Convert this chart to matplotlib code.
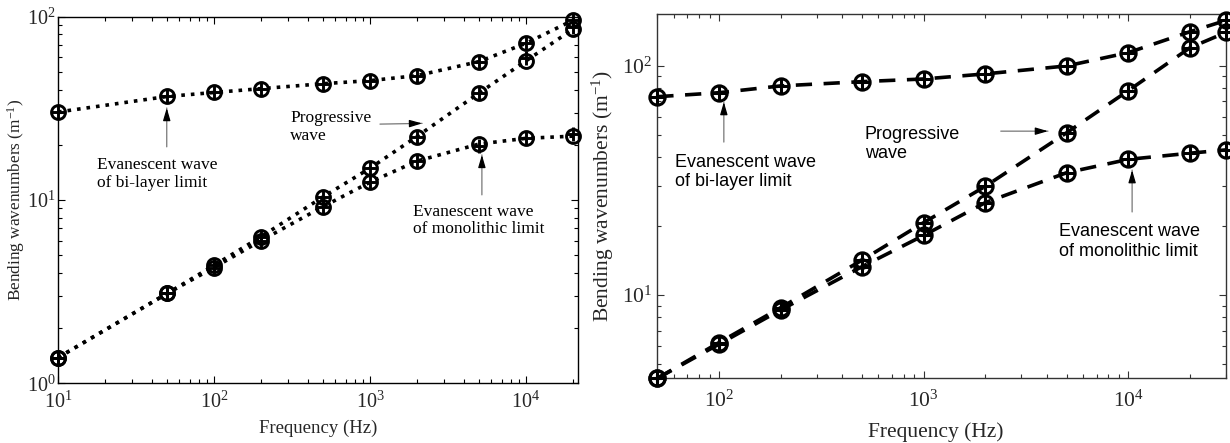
import numpy as np
import matplotlib
matplotlib.use('Agg')
import matplotlib.pyplot as plt
from matplotlib.ticker import LogLocator, NullFormatter

plt.rcParams['font.family'] = ['Liberation Serif', 'DejaVu Serif']
plt.rcParams['mathtext.fontset'] = 'custom'
plt.rcParams['mathtext.rm'] = 'Liberation Serif'
plt.rcParams['mathtext.it'] = 'Liberation Serif:italic'

# left panel data (Hz, 1/m)
freq_a = [10, 50, 100, 200, 500, 1000, 2000, 5000, 10000, 20000]
bilayer_a = [30.2, 36.7, 38.6, 40.5, 43.1, 44.8, 47.7, 56.9, 71.6, 95.6]
progressive_a = [1.38, 3.09, 4.4, 6.3, 10.4, 14.9, 22.2, 38.3, 57.4, 85.4]
monolithic_a = [1.38, 3.09, 4.28, 6.0, 9.2, 12.5, 16.3, 20.2, 21.7, 22.3]
progressive_a_plus = [1.38, 3.09, 4.4, 6.3, 10.4, 14.9, 22.2, 38.3, 59.5, 88.0]
monolithic_a_plus = [1.38, 3.09, 4.28, 6.0, 9.2, 12.5, 16.3, 19.7, 21.7, 22.8]

# right panel data
freq_b = [50, 100, 200, 500, 1000, 2000, 5000, 10000, 20000, 30000]
bilayer_b = [73.4, 76.4, 81.8, 85.4, 87.7, 92.3, 100, 114.3, 141, 158]
progressive_b = [4.33, 6.2, 8.8, 14.2, 20.7, 29.8, 51.1, 78, 120, 140]
monolithic_b = [4.33, 6.1, 8.6, 13.3, 18.2, 25.3, 34.2, 39.1, 41.6, 43.0]

fig = plt.figure(figsize=(12.3, 4.43), dpi=100)
ax1 = fig.add_axes([0.0472, 0.1348, 0.4228, 0.8275])
ax2 = fig.add_axes([0.5344, 0.1460, 0.4623, 0.8217])

sans = 'Liberation Sans'


def style_axes(ax, fs, spine_col, xpad, ypad):
    ax.set_xscale('log')
    ax.set_yscale('log')
    ax.tick_params(which='both', direction='in', top=True, right=True,
                   colors=spine_col, labelcolor='#262626')
    ax.tick_params(which='major', length=5, width=0.8, labelsize=fs)
    ax.tick_params(which='minor', length=3, width=0.8)
    ax.tick_params(axis='x', which='major', pad=xpad)
    ax.tick_params(axis='y', which='major', pad=ypad)
    ax.xaxis.set_minor_locator(LogLocator(base=10, subs=np.arange(2, 10)))
    ax.yaxis.set_minor_locator(LogLocator(base=10, subs=np.arange(2, 10)))
    ax.xaxis.set_minor_formatter(NullFormatter())
    ax.yaxis.set_minor_formatter(NullFormatter())
    for s in ax.spines.values():
        s.set_color(spine_col)
        s.set_linewidth(1.0)


def arrow(ax, tail, head):
    # grey shaft, black head
    ax.annotate('', xy=head, xytext=tail, xycoords='axes fraction',
                textcoords='axes fraction',
                arrowprops=dict(arrowstyle='-', color='#777777', lw=0.9,
                                shrinkA=0, shrinkB=0))
    d = (head[0] - tail[0], head[1] - tail[1])
    n = np.hypot(d[0], d[1])
    short = (head[0] - 0.02 * d[0] / n, head[1] - 0.02 * d[1] / n)
    ax.annotate('', xy=head, xytext=short, xycoords='axes fraction',
                textcoords='axes fraction',
                arrowprops=dict(arrowstyle='-|>,head_length=0.75,head_width=0.22',
                                color='k', lw=0.9, shrinkA=0, shrinkB=0))


# ---- left
for ys in (bilayer_a, progressive_a, monolithic_a):
    ax1.plot(freq_a, ys, ':', color='k', lw=2.6, marker='o', ms=10,
             mfc='none', mec='k', mew=2.1, clip_on=False, zorder=3)
for ys in (bilayer_a, progressive_a_plus, monolithic_a_plus):
    ax1.plot(freq_a, ys, 'none', marker='+', ms=10, mec='k', mew=2.1,
             clip_on=False, zorder=4)
ax1.set_xlim(10, 2.16e4)
ax1.set_ylim(1, 100)
style_axes(ax1, 14.5, 'k', 6, 1.5)
ax1.set_xlabel('Frequency (Hz)', fontsize=13.5, color='#262626')
ax1.set_ylabel('Bending wavenumbers (m$^{-1}$)', fontsize=12.4, color='#262626')
ax1.xaxis.set_label_coords(0.5, -0.1)
ax1.yaxis.set_label_coords(-0.06, 0.5)

ax1.text(0.075, 0.571, 'Evanescent wave\nof bi-layer limit', transform=ax1.transAxes,
         fontsize=12.5, va='center', ha='left', linespacing=1.15)
arrow(ax1, (0.209, 0.645), (0.209, 0.751))
ax1.text(0.446, 0.699, 'Progressive\nwave', transform=ax1.transAxes,
         fontsize=12.5, va='center', ha='left', linespacing=1.15)
arrow(ax1, (0.619, 0.707), (0.700, 0.709))
ax1.text(0.683, 0.444, 'Evanescent wave\nof monolithic limit', transform=ax1.transAxes,
         fontsize=12.5, va='center', ha='left', linespacing=1.15)
arrow(ax1, (0.815, 0.514), (0.815, 0.623))

# ---- right
for ys in (bilayer_b, progressive_b, monolithic_b):
    ax2.plot(freq_b, ys, '--', color='k', lw=2.6, dashes=(4.5, 3.2), marker='o', ms=11,
             mfc='none', mec='k', mew=2.2, clip_on=False, zorder=3)
    ax2.plot(freq_b, ys, 'none', marker='+', ms=11, mec='k', mew=2.2,
             clip_on=False, zorder=4)
ax2.set_xlim(50, 3e4)
ax2.set_ylim(4.33, 168)
style_axes(ax2, 15.5, '#333333', 9, 3.5)
ax2.set_xlabel('Frequency (Hz)', fontsize=15.5, color='#262626')
ax2.set_ylabel('Bending wavenumbers (m$^{-1}$)', fontsize=15.5, color='#262626')
ax2.xaxis.set_label_coords(0.49, -0.12)
ax2.yaxis.set_label_coords(-0.073, 0.5)

ax2.text(0.031, 0.567, 'Evanescent wave\nof bi-layer limit', transform=ax2.transAxes,
         family=sans, fontsize=13, va='center', ha='left', linespacing=1.2)
arrow(ax2, (0.117, 0.649), (0.117, 0.759))
ax2.text(0.365, 0.644, 'Progressive\nwave', transform=ax2.transAxes,
         family=sans, fontsize=13, va='center', ha='left', linespacing=1.2)
arrow(ax2, (0.604, 0.679), (0.687, 0.679))
ax2.text(0.706, 0.376, 'Evanescent wave\nof monolithic limit', transform=ax2.transAxes,
         family=sans, fontsize=13, va='center', ha='left', linespacing=1.2)
arrow(ax2, (0.835, 0.457), (0.835, 0.572))

fig.savefig('out.png', dpi=100)
